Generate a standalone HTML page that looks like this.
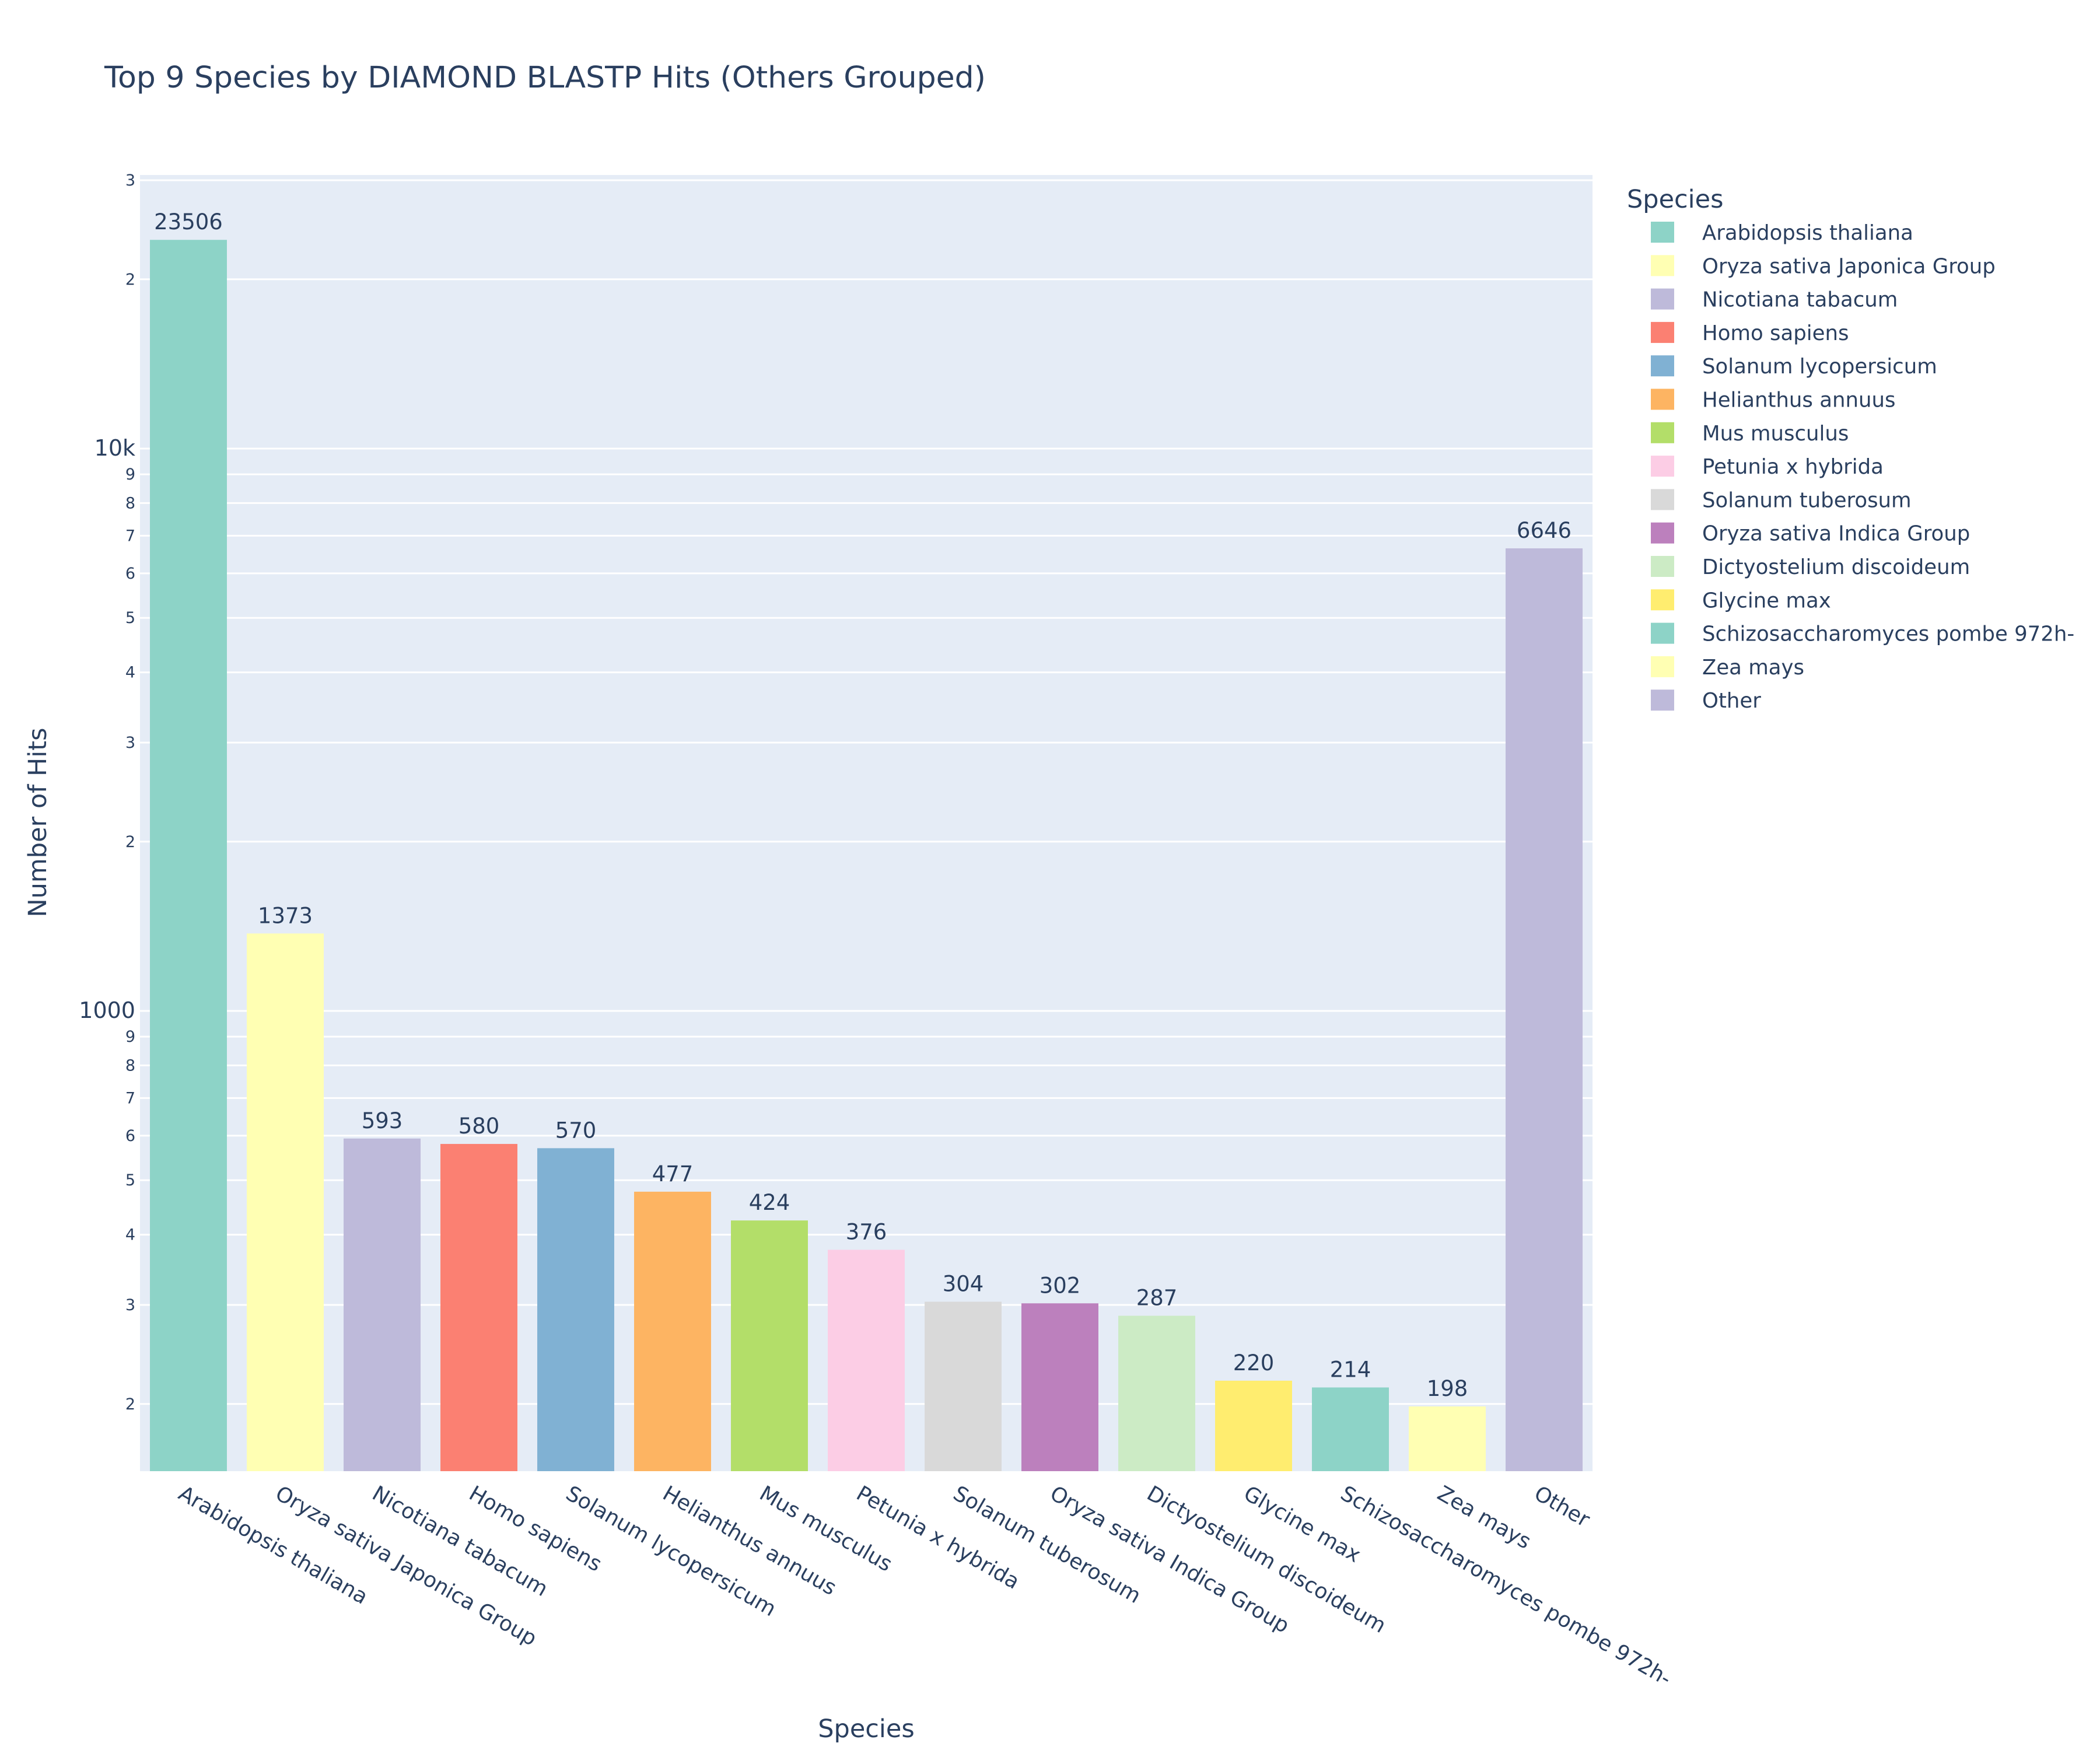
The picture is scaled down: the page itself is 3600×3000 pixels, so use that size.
<!DOCTYPE html>
<html><head><meta charset="utf-8"><style>
html,body{margin:0;padding:0;background:#fff;}
svg{display:block;font-family:"DejaVu Sans","Liberation Sans",sans-serif;}
</style></head><body>
<svg id="chart" width="3600" height="3000" viewBox="0 0 3600 3000">
<rect width="3600" height="3000" fill="#fff"/>
<text x="179" y="150" font-size="51" textLength="1511" lengthAdjust="spacingAndGlyphs" fill="#2a3f5f">Top 9 Species by DIAMOND BLASTP Hits (Others Grouped)</text>
<rect x="240" y="300" width="2490" height="2222" fill="#e5ecf6"/>
<g id="grid"></g><g id="bars"></g><g id="ylabels"></g><g id="xlabels"></g><g id="legend"></g>
<text transform="translate(79,1410) rotate(-90)" text-anchor="middle" font-size="43" fill="#2a3f5f">Number of Hits</text>
<text x="1485" y="2978" text-anchor="middle" font-size="43" fill="#2a3f5f">Species</text>
</svg>
<script>
const categories = ["Arabidopsis thaliana","Oryza sativa Japonica Group","Nicotiana tabacum","Homo sapiens","Solanum lycopersicum","Helianthus annuus","Mus musculus","Petunia x hybrida","Solanum tuberosum","Oryza sativa Indica Group","Dictyostelium discoideum","Glycine max","Schizosaccharomyces pombe 972h-","Zea mays","Other"];
const hits = [23506,1373,593,580,570,477,424,376,304,302,287,220,214,198,6646];
const colors = ["#8dd3c7","#ffffb3","#bebada","#fb8072","#80b1d3","#fdb462","#b3de69","#fccde5","#d9d9d9","#bc80bd","#ccebc5","#ffed6f","#8dd3c7","#ffffb3","#bebada"];
const tickValues = [200,300,400,500,600,700,800,900,1000,2000,3000,4000,5000,6000,7000,8000,9000,10000,20000,30000];
const tickLabels = ["2","3","4","5","6","7","8","9","1000","2","3","4","5","6","7","8","9","10k","2","3"];

const NS="http://www.w3.org/2000/svg";
const L=240,R=2730,T=300,B=2522;
const PPD=964, Y10K=769;
function y(v){return Y10K+(4-Math.log10(v))*PPD;}
const band=(R-L)/categories.length, bw=band*0.795;
function xc(i){return L+band*(i+0.5);}
function mk(tag,attrs,parent){const e=document.createElementNS(NS,tag);for(const k in attrs)e.setAttribute(k,attrs[k]);parent.appendChild(e);return e;}
const grid=document.getElementById('grid'),bars=document.getElementById('bars'),yl=document.getElementById('ylabels'),xl=document.getElementById('xlabels'),lg=document.getElementById('legend');
tickValues.forEach((v,i)=>{
  const yy=y(v); if(yy<T||yy>B) return;
  const ln=mk('line',{x1:L,x2:R,y1:yy,y2:yy,stroke:'#fff','stroke-width':3},grid);
  
  
  const major=tickLabels[i].length>1;
  const t=mk('text',{x:L-8,y:yy+(major?12:9),'text-anchor':'end','font-size':major?38:27,fill:'#2a3f5f'},yl);
  t.textContent=tickLabels[i];
  
  
});
categories.forEach((c,i)=>{
  const top=y(hits[i]);
  const r=mk('rect',{x:xc(i)-bw/2,y:top,width:bw,height:B-top,fill:colors[i]},bars);
  
  
  const t=mk('text',{x:xc(i),y:top-18,'text-anchor':'middle','font-size':37,fill:'#2a3f5f'},bars);
  t.textContent=hits[i];
  
  
  const xt=mk('text',{transform:`translate(${xc(i)-6},${B+22}) rotate(30)`,'font-size':36,fill:'#2a3f5f',dy:'0.75em'},xl);
  xt.textContent=c;
  
  
});
const lt=mk('text',{x:2789,y:356,'font-size':43,fill:'#2a3f5f'},lg);
lt.textContent='Species';


categories.forEach((c,i)=>{
  const cy=398+i*57.3;
  const g=mk('g',{},lg);
  
  
  mk('rect',{x:2830,y:cy-18,width:40,height:36,fill:colors[i]},g);
  const t=mk('text',{x:2918,y:cy+13,'font-size':35.5,fill:'#2a3f5f'},g);
  t.textContent=c;
});
</script>
</body></html>
